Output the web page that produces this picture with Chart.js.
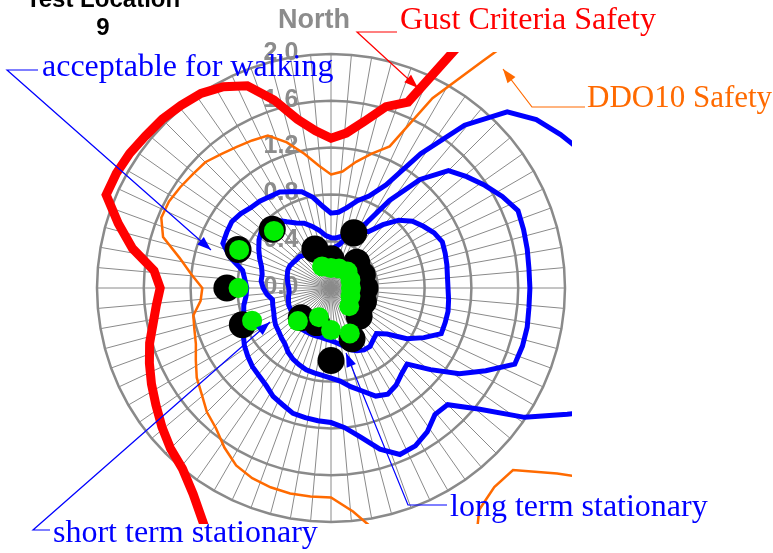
<!DOCTYPE html>
<html>
<head>
<meta charset="utf-8">
<script src="https://cdn.jsdelivr.net/npm/chart.js@4.4.1/dist/chart.umd.min.js"></script>
<style>
  html, body { margin: 0; padding: 0; background: #fff; }
  #wrap { position: relative; width: 773px; height: 553px; }
  #wrap canvas { position: absolute; left: 0; top: 0; }
</style>
</head>
<body>
<div id="wrap">
  <canvas id="grid-chart" width="773" height="553"></canvas>
  <canvas id="data-chart" width="773" height="553"></canvas>
</div>
<script>
// 64 wind directions, 5.625 deg apart, clockwise from North
const directionCount = 64;
const spokeCount = 72;
const tickValues = [0, 0.4, 0.8, 1.2, 1.6, 2.0];
const tickLabels = ['0.0', '0.4', '0.8', '1.2', '1.6', '2.0'];

const gustSafety = [1.28, 1.33, 1.45, 1.62, 1.72, 2.4, 3.5, 3.5, 3.5, 3.5, 3.5, 3.5, 3.5, 3.5, 3.5, 3.5,
  3.5, 3.5, 3.5, 3.5, 3.5, 3.5, 3.5, 3.5, 3.5, 3.5, 3.5, 3.5, 3.5, 3.5, 3.5, 3.5,
  3.5, 3.5, 3.5, 3.0, 2.6, 2.3, 2.12, 2.0, 1.94, 1.87, 1.8, 1.74, 1.68, 1.62, 1.55, 1.5,
  1.46, 1.52, 1.73, 1.9, 2.08, 2.08, 2.07, 2.05, 2.04, 2.02, 2.0, 1.95, 1.87, 1.68, 1.47, 1.35];

const ddo10Safety = [0.97, 1.0, 1.1, 1.2, 1.31, 1.84, 2.33, 3.2, 3.2, 3.2, 3.2, 3.2, 3.2, 3.2, 3.2, 3.2,
  3.2, 3.2, 3.2, 3.2, 3.2, 3.2, 3.0, 2.5, 2.2, 2.2, 2.28, 2.6, 2.8, 2.8, 2.15, 1.92,
  1.79, 1.79, 1.79, 1.78, 1.76, 1.72, 1.64, 1.55, 1.5, 1.43, 1.38, 1.31, 1.25, 1.22, 1.2, 1.12,
  1.1, 1.2, 1.32, 1.5, 1.57, 1.57, 1.55, 1.53, 1.52, 1.48, 1.45, 1.43, 1.41, 1.3, 1.17, 1.05];

const walking = [0.64, 0.65, 0.7, 0.78, 0.85, 1.0, 1.38, 1.8, 2.13, 2.27, 2.36, 2.45, 2.7, 2.7, 2.7, 2.7,
  2.7, 2.7, 2.7, 2.7, 2.7, 2.29, 1.99, 1.63, 1.41, 1.4, 1.48, 1.53, 1.54, 1.44, 1.3, 1.2,
  1.15, 1.14, 1.13, 1.12, 1.08, 1.05, 1.0, 0.97, 0.95, 0.92, 0.89, 0.85, 0.8, 0.78, 0.76, 0.73,
  0.72, 0.74, 0.77, 0.9, 1.0, 1.01, 1.02, 1.0, 0.97, 0.96, 0.94, 0.93, 0.89, 0.86, 0.79, 0.7];

const shortTerm = [0.43, 0.43, 0.45, 0.5, 0.56, 0.62, 0.9, 1.2, 1.42, 1.5, 1.58, 1.66, 1.73, 1.72, 1.71, 1.7,
  1.7, 1.7, 1.71, 1.71, 1.7, 1.5, 1.32, 1.1, 0.92, 0.95, 1.0, 1.03, 1.0, 0.92, 0.86, 0.8,
  0.77, 0.75, 0.74, 0.73, 0.71, 0.69, 0.66, 0.62, 0.6, 0.58, 0.57, 0.55, 0.53, 0.52, 0.51, 0.55,
  0.58, 0.6, 0.6, 0.62, 0.66, 0.7, 0.74, 0.77, 0.78, 0.75, 0.68, 0.63, 0.6, 0.55, 0.5, 0.45];

const longTerm = [0.33, 0.35, 0.38, 0.45, 0.5, 0.55, 0.58, 0.7, 0.82, 0.9, 0.95, 1.0, 1.03, 1.02, 1.01, 1.0,
  1.0, 1.01, 1.02, 1.02, 1.02, 0.9, 0.78, 0.62, 0.55, 0.57, 0.6, 0.6, 0.58, 0.55, 0.5, 0.47,
  0.45, 0.44, 0.43, 0.43, 0.43, 0.43, 0.43, 0.43, 0.42, 0.41, 0.4, 0.39, 0.39, 0.38, 0.37, 0.36,
  0.36, 0.37, 0.38, 0.39, 0.4, 0.4, 0.39, 0.38, 0.38, 0.36, 0.35, 0.34, 0.33, 0.33, 0.33, 0.33];

// measured ratios, 16 directions 22.5 deg apart
const measuredBlack = [0.25, 0.51, 0.31, 0.29, 0.29, 0.3, 0.34, 0.47, 0.62, 0.32, 0.36, 0.82, 0.89, 0.86, 0.71, 0.36];
const measuredGreen = [0.17, 0.18, 0.2, 0.18, 0.17, 0.18, 0.22, 0.42, 0.36, 0.27, 0.4, 0.73, 0.79, 0.85, 0.69, 0.2];

const dirLabels = Array.from({ length: directionCount }, (_, i) => (i * 360 / directionCount).toFixed(3));
const spokeLabels = Array.from({ length: spokeCount }, () => '');

// spread the 16 measured directions onto the 64-direction axis
function onDirections(values) {
  const step = directionCount / values.length;
  const out = new Array(directionCount).fill(null);
  values.forEach((v, i) => { out[i * step] = v; });
  return out;
}

const padding = { left: 97, top: 54, right: 208, bottom: 31 };
const clipBox = { left: false, top: 2, right: 7, bottom: 2 };

function curve(label, data, color, width, order) {
  return {
    label: label,
    data: data,
    borderColor: color,
    borderWidth: width,
    backgroundColor: 'rgba(0,0,0,0)',
    fill: false,
    pointRadius: 0,
    pointHoverRadius: 0,
    tension: 0,
    clip: clipBox,
    order: order
  };
}

function dots(label, data, color, radius, order) {
  return {
    label: label,
    data: onDirections(data),
    showLine: false,
    borderWidth: 0,
    borderColor: 'rgba(0,0,0,0)',
    backgroundColor: 'rgba(0,0,0,0)',
    fill: false,
    pointRadius: radius,
    pointHoverRadius: radius,
    pointBackgroundColor: color,
    pointBorderWidth: 0,
    spanGaps: false,
    order: order
  };
}

function arrowLine(ctx, pts, color) {
  ctx.save();
  ctx.strokeStyle = color;
  ctx.fillStyle = color;
  ctx.lineWidth = 1.2;
  ctx.beginPath();
  ctx.moveTo(pts[0][0], pts[0][1]);
  for (let i = 1; i < pts.length; i++) ctx.lineTo(pts[i][0], pts[i][1]);
  ctx.stroke();
  const [x1, y1] = pts[pts.length - 2];
  const [x2, y2] = pts[pts.length - 1];
  const a = Math.atan2(y2 - y1, x2 - x1);
  const len = 14, half = 5;
  ctx.beginPath();
  ctx.moveTo(x2, y2);
  ctx.lineTo(x2 - len * Math.cos(a) + half * Math.sin(a), y2 - len * Math.sin(a) - half * Math.cos(a));
  ctx.lineTo(x2 - len * Math.cos(a) - half * Math.sin(a), y2 - len * Math.sin(a) + half * Math.cos(a));
  ctx.closePath();
  ctx.fill();
  ctx.restore();
}

// tick values, title, North
const gridText = {
  id: 'gridText',
  afterDraw(chart) {
    const ctx = chart.ctx;
    const s = chart.scales.r;
    ctx.save();
    ctx.fillStyle = '#8c8c8c';
    ctx.font = 'bold 25px "Liberation Sans", Arial, sans-serif';
    ctx.textAlign = 'center';
    ctx.textBaseline = 'middle';
    tickValues.forEach((v, i) => {
      ctx.fillText(tickLabels[i], s.xCenter - 50, s.yCenter - s.getDistanceFromCenterForValue(v) - 1);
    });
    ctx.font = 'bold 27px "Liberation Sans", Arial, sans-serif';
    ctx.textBaseline = 'alphabetic';
    ctx.fillText('North', s.xCenter - 17, s.yCenter - s.drawingArea - 26);
    ctx.fillStyle = '#000';
    ctx.font = 'bold 24px "Liberation Sans", Arial, sans-serif';
    ctx.fillText('Test Location', 103, 7);
    ctx.fillText('9', 103, 35);
    ctx.restore();
  }
};

// callouts
const callouts = {
  id: 'callouts',
  afterDraw(chart) {
    const ctx = chart.ctx;
    ctx.save();
    ctx.font = '32px "Liberation Serif", "Times New Roman", serif';
    ctx.textBaseline = 'alphabetic';
    ctx.textAlign = 'left';

    ctx.fillStyle = '#ff0000';
    ctx.fillText('Gust Criteria Safety', 400, 29);
    arrowLine(ctx, [[397, 32], [357, 32], [418, 88]], '#ff0000');

    ctx.fillStyle = '#ff6a00';
    ctx.font = '31px "Liberation Serif", "Times New Roman", serif';
    ctx.fillText('DDO10 Safety', 587, 107);
    arrowLine(ctx, [[585, 107], [532, 107], [503, 69]], '#ff6a00');

    ctx.fillStyle = '#0000ff';
    ctx.font = '32px "Liberation Serif", "Times New Roman", serif';
    ctx.fillText('acceptable for walking', 42, 76);
    arrowLine(ctx, [[38, 70], [7, 70], [211, 250]], '#0000ff');

    ctx.fillText('short term stationary', 53, 542);
    arrowLine(ctx, [[50, 530], [33, 530], [270, 322]], '#0000ff');

    ctx.fillText('long term stationary', 450, 516);
    arrowLine(ctx, [[447, 505], [408, 505], [346, 353]], '#0000ff');
    ctx.restore();
  }
};

new Chart(document.getElementById('grid-chart'), {
  type: 'radar',
  data: { labels: spokeLabels, datasets: [] },
  options: {
    responsive: false,
    animation: false,
    devicePixelRatio: 1,
    layout: { padding: padding },
    plugins: { legend: { display: false }, tooltip: { enabled: false } },
    scales: {
      r: {
        min: 0,
        max: 2.0,
        ticks: { stepSize: 0.4, display: false },
        grid: { color: '#8a8a8a', lineWidth: 2.5 },
        angleLines: { color: '#8a8a8a', lineWidth: 1 },
        pointLabels: { display: false }
      }
    }
  },
  plugins: [gridText]
});

new Chart(document.getElementById('data-chart'), {
  type: 'radar',
  data: {
    labels: dirLabels,
    datasets: [
      dots('measured (green)', measuredGreen, '#00ee00', 10, 0),
      dots('measured (black)', measuredBlack, '#000000', 13.5, 1),
      curve('long term stationary', longTerm, '#0000ff', 5, 2),
      curve('short term stationary', shortTerm, '#0000ff', 5, 3),
      curve('acceptable for walking', walking, '#0000ff', 5, 4),
      curve('DDO10 Safety', ddo10Safety, '#ff6a00', 2.5, 5),
      curve('Gust Criteria Safety', gustSafety, '#ff0000', 9, 6)
    ]
  },
  options: {
    responsive: false,
    animation: false,
    devicePixelRatio: 1,
    layout: { padding: padding },
    plugins: { legend: { display: false }, tooltip: { enabled: false } },
    scales: {
      r: {
        min: 0,
        max: 2.0,
        ticks: { stepSize: 0.4, display: false },
        grid: { display: false },
        angleLines: { display: false },
        pointLabels: { display: false }
      }
    }
  },
  plugins: [callouts]
});
</script>
</body>
</html>
